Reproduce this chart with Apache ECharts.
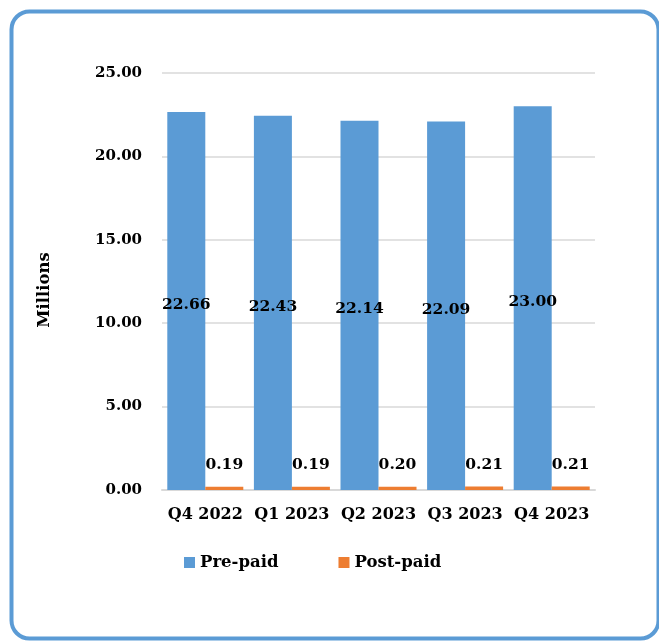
<!DOCTYPE html>
<html><head><meta charset="utf-8">
<script src="https://cdn.jsdelivr.net/npm/echarts@6/dist/echarts.min.js"></script>
<style>html,body{margin:0;padding:0;background:#fff}#c{width:659px;height:641px}</style>
</head><body><div id="c"></div>
<script>
const categories = ['Q4 2022','Q1 2023','Q2 2023','Q3 2023','Q4 2023'];
const prePaid = [22.66, 22.43, 22.14, 22.09, 23.00];
const postPaid = [0.19, 0.19, 0.20, 0.21, 0.21];
const yTicks = [0, 5, 10, 15, 20, 25];

const FONT = '"DejaVu Serif", "Liberation Serif", serif';
const chart = echarts.init(document.getElementById('c'));
chart.setOption({
  animation: false,
  textStyle: {fontFamily: FONT},
  graphic: [{
    type: 'rect', left: 9, top: 9,
    shape: {width: 647, height: 627, r: 18},
    style: {fill: 'none', stroke: '#5B9BD5', lineWidth: 4}
  },{
    type: 'text', x: 45, y: 290, rotation: Math.PI/2,
    style: {text: 'Millions', fill: '#000', font: 'bold 16.5px ' + FONT, align: 'center', verticalAlign: 'middle'}
  }],
  grid: {left: 162, right: 64, top: 73, bottom: 151},
  legend: {
    data: ['Pre-paid','Post-paid'], top: 549, left: 179, itemGap: 60,
    itemWidth: 11, itemHeight: 11, icon: 'rect',
    textStyle: {fontFamily: FONT, fontWeight: 'bold', fontSize: 16.5, color: '#000'}
  },
  xAxis: {
    type: 'category', data: categories,
    axisLine: {lineStyle: {color: '#d9d9d9', width: 2}},
    axisTick: {show: false},
    axisLabel: {interval: 0, fontFamily: FONT, fontWeight: 'bold', fontSize: 16, color: '#000', margin: 17}
  },
  yAxis: {
    type: 'value', min: yTicks[0], max: yTicks[yTicks.length-1], interval: 5,
    axisLine: {show: false}, axisTick: {show: false},
    splitLine: {lineStyle: {color: '#d9d9d9', width: 1.5}},
    axisLabel: {fontFamily: FONT, fontWeight: 'bold', fontSize: 15, color: '#000', margin: 20,
      formatter: v => v.toFixed(2)}
  },
  series: [{
    name: 'Pre-paid', type: 'bar', data: prePaid, barWidth: 38, barGap: '0%',
    itemStyle: {color: '#5B9BD5'},
    label: {show: true, position: 'inside', offset: [0, 4], color: '#000', fontFamily: FONT, fontWeight: 'bold', fontSize: 15.5,
      formatter: p => p.value.toFixed(2)}
  },{
    name: 'Post-paid', type: 'bar', data: postPaid, barWidth: 38,
    itemStyle: {color: '#ED7D31'},
    label: {show: true, position: 'top', distance: 14, color: '#000', fontFamily: FONT, fontWeight: 'bold', fontSize: 15.5,
      formatter: p => p.value.toFixed(2)}
  }]
});
</script></body></html>
